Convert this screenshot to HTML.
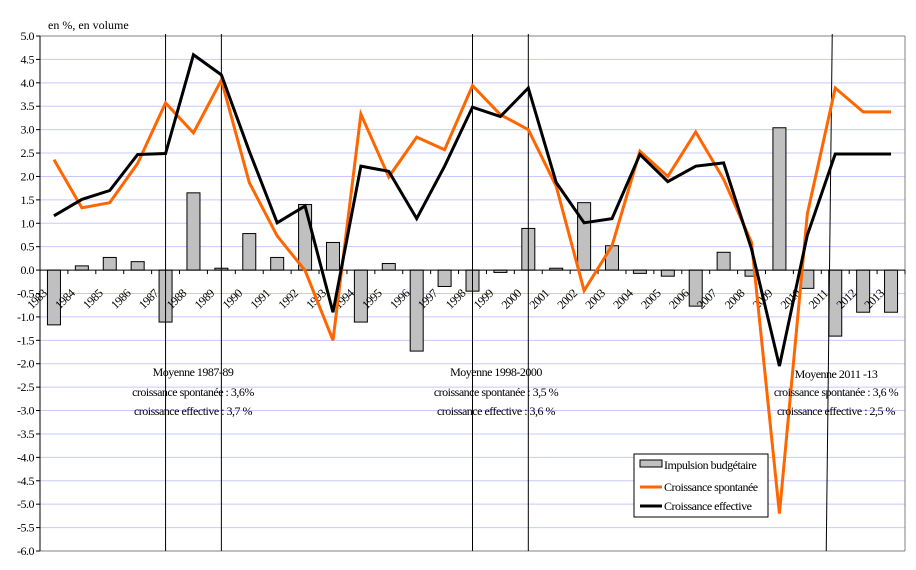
<!DOCTYPE html>
<html><head><meta charset="utf-8"><style>
body{margin:0;background:#fff;}
svg{display:block;}
svg text{font-family:"Liberation Serif","Times New Roman",serif;}
</style></head><body>
<svg id="chart" width="916" height="570" viewBox="0 0 916 570" xmlns="http://www.w3.org/2000/svg">
<g id="grid"></g>
<g id="bars"></g>
<g id="axes"></g>
<g id="vlines"></g>
<g id="lines"></g>
<text x="48" y="29" font-size="12">en %, en volume</text>
<g font-size="12" text-anchor="middle" letter-spacing="-0.5">
<text x="193" y="376">Moyenne 1987-89</text>
<text x="193" y="396">croissance spontanée : 3,6%</text>
<text x="193" y="415">croissance effective : 3,7 %</text>
</g>
<g font-size="12" text-anchor="middle" letter-spacing="-0.5">
<text x="496" y="376">Moyenne 1998-2000</text>
<text x="496" y="396">croissance spontanée : 3,5 %</text>
<text x="496" y="415">croissance effective : 3,6 %</text>
</g>
<g font-size="12" text-anchor="middle" letter-spacing="-0.5">
<text x="836" y="378">Moyenne 2011 -13</text>
<text x="836" y="396">croissance spontanée : 3,6 %</text>
<text x="836" y="415">croissance effective : 2,5 %</text>
</g>
<g>
<rect x="634" y="454" width="134" height="63" fill="#fff" stroke="#000" stroke-width="1"/>
<g><rect x="640" y="460" width="22" height="7" fill="#c0c0c0" stroke="#000"/><text x="664" y="469" font-size="12" letter-spacing="-0.5">Impulsion budgétaire</text></g>
<g><line x1="640" y1="487" x2="662" y2="487" stroke="#ff6600" stroke-width="3"/><text x="664" y="491" font-size="12" letter-spacing="-0.5">Croissance spontanée</text></g>
<g><line x1="640" y1="506" x2="662" y2="506" stroke="#000" stroke-width="3"/><text x="664" y="510" font-size="12" letter-spacing="-0.5">Croissance effective</text></g>
</g>
</svg>
<script>
const years=[1983,1984,1985,1986,1987,1988,1989,1990,1991,1992,1993,1994,1995,1996,1997,1998,1999,2000,2001,2002,2003,2004,2005,2006,2007,2008,2009,2010,2011,2012,2013];
const impulse=[-1.17,0.09,0.27,0.18,-1.11,1.65,0.04,0.78,0.27,1.40,0.59,-1.11,0.14,-1.73,-0.35,-0.45,-0.05,0.89,0.04,1.44,0.52,-0.07,-0.13,-0.77,0.38,-0.13,3.04,-0.39,-1.41,-0.9,-0.9];
const spontanee=[2.36,1.33,1.44,2.28,3.57,2.93,4.06,1.87,0.73,-0.01,-1.5,3.33,1.99,2.84,2.57,3.94,3.32,3.0,1.79,-0.44,0.52,2.54,2.0,2.95,1.94,0.59,-5.2,1.2,3.89,3.38,3.38];
const effective=[1.16,1.51,1.70,2.47,2.49,4.6,4.17,2.54,1.01,1.37,-0.9,2.22,2.11,1.1,2.22,3.48,3.28,3.89,1.87,1.01,1.1,2.47,1.89,2.22,2.29,0.45,-2.05,0.75,2.48,2.48,2.48];
const yTicks=[5,4.5,4,3.5,3,2.5,2,1.5,1,0.5,0,-0.5,-1,-1.5,-2,-2.5,-3,-3.5,-4,-4.5,-5,-5.5,-6];
const markerYears=[1987,1989,1998,2000,2011];
const NS="http://www.w3.org/2000/svg";
const L=40,R=905,T=36,B=551,vmax=5,vmin=-6;
const cw=(R-L)/years.length;
const y=v=>T+(vmax-v)/(vmax-vmin)*(B-T);
const x=i=>L+cw*(i+0.5);
function mk(tag,attrs,parent){const e=document.createElementNS(NS,tag);for(const k in attrs)e.setAttribute(k,attrs[k]);parent.appendChild(e);return e;}
const grid=document.getElementById('grid'),axes=document.getElementById('axes'),bars=document.getElementById('bars'),lines=document.getElementById('lines'),vl=document.getElementById('vlines');
yTicks.forEach(t=>{
  if(t!==0&&t!==vmin){const g=mk('line',{x1:L,x2:R,y1:y(t),y2:y(t),stroke:'#c8c8ff','stroke-width':1},grid);
  
  }
  mk('line',{x1:L-4,x2:L,y1:y(t),y2:y(t),stroke:'#000'},axes);
  const lb=mk('text',{x:L-6,y:y(t)+4,'text-anchor':'end','font-size':12,'letter-spacing':'-0.5'},axes);
  lb.textContent=t.toFixed(1);
  
  
});
mk('line',{x1:L,x2:R,y1:T,y2:T,stroke:'#808080'},axes);
mk('line',{x1:R,x2:R,y1:T,y2:B,stroke:'#808080'},axes);
mk('line',{x1:L,x2:R,y1:B,y2:B,stroke:'#808080'},axes);
mk('line',{x1:L,x2:L,y1:T,y2:B,stroke:'#000'},axes);
mk('line',{x1:L,x2:R,y1:y(0),y2:y(0),stroke:'#000'},axes);
years.forEach((yr,i)=>{
  const v=impulse[i];
  const b=mk('rect',{x:x(i)-6.5,y:Math.min(y(v),y(0)),width:13,height:Math.abs(y(v)-y(0)),fill:'#c0c0c0',stroke:'#000','stroke-width':1},bars);
  
  
  mk('line',{x1:L+cw*(i+1),x2:L+cw*(i+1),y1:y(0),y2:y(0)+4,stroke:'#000'},axes);
  const cx=x(i)-17,cy=299;
  const t=mk('text',{x:cx,y:cy+4,'text-anchor':'middle','font-size':12,'letter-spacing':'-0.5',transform:`rotate(-45 ${cx} ${cy})`},axes);
  t.textContent=yr;
  
  
});
markerYears.forEach(yr=>{
  const i=years.indexOf(yr);
  const xx=L+cw*(i+0.5);
  const sl=(yr===2011?3:0);
  const m=mk('line',{x1:xx-6+sl,x2:xx-6-sl,y1:T-2,y2:B,stroke:'#000','stroke-width':1},vl);
  if(yr!==2011){m.setAttribute('x1',xx);m.setAttribute('x2',xx);}
  
  
});
function poly(vals,color,name){
  const p=mk('polyline',{points:vals.map((v,i)=>x(i)+','+y(v)).join(' '),fill:'none',stroke:color,'stroke-width':3,'stroke-linejoin':'miter'},lines);
  
  
}
poly(spontanee,'#ff6600','line-croissance-spontanee');
poly(effective,'#000000','line-croissance-effective');
</script>
</body></html>
